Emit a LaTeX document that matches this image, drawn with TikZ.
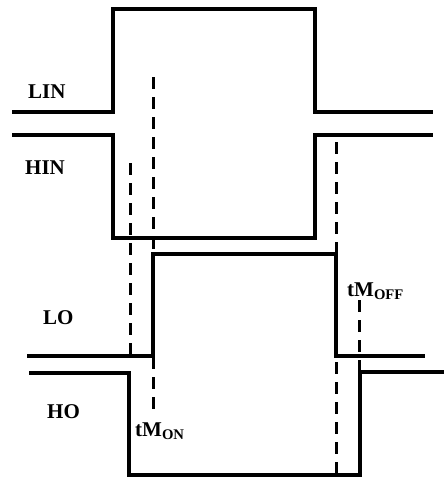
\documentclass[tikz,border=0pt]{standalone}
\usepackage{fontspec}
\setmainfont{Liberation Serif}
\usetikzlibrary{positioning}

\begin{document}
\begin{tikzpicture}[x=1pt, y=-1pt,
    wave/.style={line width=3.6pt},
    guide/.style={line width=3pt, dash pattern=on 12pt off 8pt},
    sig/.style={font=\bfseries\fontsize{21}{21}\selectfont, inner sep=0pt, anchor=base west}]
    \useasboundingbox (0,0) rectangle (444,477);

    % inputs
    \draw[wave] (12,112) -- (113,112) -- (113,9) -- (315,9) -- (315,112) -- (433,112);
    \draw[wave] (12,135) -- (113,135) -- (113,238) -- (315,238) -- (315,135) -- (433,135);

    % outputs
    \draw[wave] (27,356) -- (153,356) -- (153,254) -- (336,254) -- (336,356) -- (425,356);
    \draw[wave] (29,373) -- (129,373) -- (129,475) -- (360,475) -- (360,372) -- (444,372);

    % delay markers
    \coordinate (on_a) at (130,163);
    \coordinate (on_b) at (130,356);
    \coordinate (on_c) at (153,77);
    \coordinate (on_d) at (153,412);
    \coordinate (off_a) at (336,142);
    \coordinate (off_b) at (336,475);
    \coordinate (off_c) at (359,300);
    \coordinate (off_d) at (359,372);

    \draw[guide] (on_a) -- (on_b);
    \draw[guide] (on_c) -- (on_d);
    \draw[guide] (off_a) -- (off_b);
    \draw[guide] (off_c) -- (off_d);

    \node[sig] (lin) at (28,98) {LIN};
    \node[sig] (hin) at (25,174) {HIN};
    \node[sig] (lo) at (43,324) {LO};
    \node[sig] (ho) at (47,418) {HO};
    \node[sig] (ton) at (135,436) {tM\textsubscript{ON}};
    \node[sig] (toff) at (347,296) {tM\textsubscript{OFF}};
\end{tikzpicture}
\end{document}
